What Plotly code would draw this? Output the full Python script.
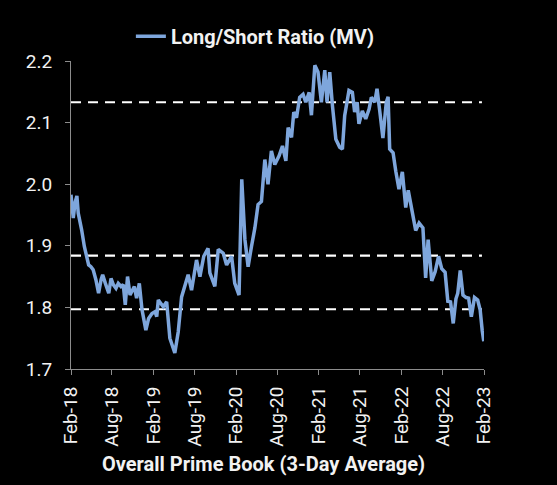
import plotly.graph_objects as go

dates = [
    "2018-02-01","2018-02-11","2018-02-19","2018-02-27","2018-03-05","2018-03-13","2018-03-20","2018-04-01",
    "2018-04-11","2018-04-20","2018-04-30","2018-05-10","2018-05-22","2018-06-03","2018-06-14","2018-06-21",
    "2018-07-03","2018-07-18","2018-07-28","2018-08-07","2018-08-19","2018-08-29","2018-09-10","2018-09-20",
    "2018-09-29","2018-10-09","2018-10-20","2018-11-01","2018-11-08","2018-11-18","2018-11-30","2018-12-12",
    "2018-12-22","2018-12-29","2019-01-10","2019-01-25","2019-02-08","2019-02-15","2019-02-22","2019-03-16",
    "2019-03-31","2019-04-14","2019-05-06","2019-05-21","2019-06-05","2019-06-24","2019-07-04","2019-07-19",
    "2019-08-10","2019-08-25","2019-09-11","2019-09-30","2019-10-08","2019-10-30","2019-11-14","2019-12-06",
    "2019-12-21","2020-01-12","2020-01-26","2020-02-14","2020-02-26","2020-03-11","2020-03-25","2020-04-09",
    "2020-04-24","2020-05-08","2020-05-23","2020-06-07","2020-06-21","2020-07-06","2020-07-21","2020-08-09",
    "2020-08-24","2020-09-08","2020-09-18","2020-10-03","2020-10-13","2020-10-25","2020-11-08","2020-11-23",
    "2020-12-05","2020-12-20","2020-12-30","2021-01-14","2021-01-28","2021-02-12","2021-02-27","2021-03-09",
    "2021-03-21","2021-04-02","2021-04-17","2021-05-04","2021-05-16","2021-05-26","2021-06-14","2021-06-29",
    "2021-07-09","2021-07-20","2021-07-28","2021-08-12","2021-08-27","2021-09-11","2021-09-21","2021-10-06",
    "2021-10-16","2021-10-28","2021-11-11","2021-11-26","2021-12-04","2021-12-11","2021-12-26","2022-01-07",
    "2022-01-21","2022-02-05","2022-02-20","2022-03-03","2022-03-21","2022-04-05","2022-04-20","2022-05-07",
    "2022-05-19","2022-05-30","2022-06-15","2022-06-30","2022-07-15","2022-07-29","2022-08-13","2022-08-25",
    "2022-09-06","2022-09-18","2022-09-30","2022-10-08","2022-10-19","2022-10-31","2022-11-14","2022-11-25",
    "2022-12-07","2022-12-21","2023-01-04","2023-01-15","2023-01-24","2023-01-31",
]
ratio = [
    1.983,1.945,1.970,1.981,1.953,1.934,1.926,1.899,
    1.883,1.869,1.866,1.861,1.845,1.823,1.845,1.853,
    1.839,1.823,1.847,1.837,1.831,1.839,1.834,1.837,
    1.804,1.850,1.820,1.828,1.834,1.815,1.839,1.796,
    1.774,1.763,1.782,1.790,1.793,1.785,1.812,1.801,
    1.809,1.750,1.726,1.760,1.817,1.839,1.853,1.828,
    1.877,1.850,1.883,1.896,1.856,1.834,1.894,1.888,
    1.869,1.883,1.839,1.820,2.008,1.910,1.866,1.899,
    1.929,1.967,1.972,2.040,2.000,2.054,2.032,2.046,
    2.062,2.038,2.092,2.076,2.117,2.108,2.141,2.146,
    2.133,2.149,2.112,2.193,2.182,2.133,2.185,2.133,
    2.182,2.127,2.073,2.060,2.057,2.111,2.152,2.149,
    2.117,2.133,2.098,2.119,2.106,2.122,2.141,2.133,
    2.155,2.119,2.075,2.133,2.142,2.057,2.051,2.021,
    1.992,2.020,1.962,1.990,1.950,1.925,1.937,1.929,
    1.848,1.910,1.843,1.858,1.883,1.863,1.857,1.810,
    1.809,1.774,1.814,1.823,1.860,1.820,1.816,1.815,
    1.785,1.816,1.812,1.796,1.763,1.745,
]
ref_levels = [2.133, 1.884, 1.797]

tick_dates = ["2018-02-01","2018-08-01","2019-02-01","2019-08-01","2020-02-01","2020-08-01",
              "2021-02-01","2021-08-01","2022-02-01","2022-08-01","2023-02-01"]
tick_labels = ["Feb-18","Aug-18","Feb-19","Aug-19","Feb-20","Aug-20",
               "Feb-21","Aug-21","Feb-22","Aug-22","Feb-23"]

x_title = "Overall Prime Book (3-Day Average)"
series_name = "Long/Short Ratio (MV)"

fig = go.Figure()
fig.add_trace(go.Scatter(
    x=dates, y=ratio, mode="lines", name=series_name,
    line=dict(color="#7EA6DC", width=3.5),
))

for lv in ref_levels:
    fig.add_shape(type="line", xref="paper", x0=0, x1=0.995, yref="y", y0=lv, y1=lv,
                  line=dict(color="white", width=2.2, dash="10px,7px"), layer="below")

fig.add_annotation(text=x_title, xref="paper", yref="paper", x=0.467, y=-0.31,
                   xanchor="center", yanchor="middle", showarrow=False,
                   font=dict(size=20, family="Roboto", weight="bold", color="#F2F2F2"))

fig.update_layout(
    width=557, height=485,
    paper_bgcolor="black", plot_bgcolor="black",
    margin=dict(l=71, r=73, t=61, b=116),
    font=dict(family="Roboto", color="#F2F2F2", size=19),
    showlegend=True,
    legend=dict(orientation="h", x=0.145, xanchor="left", y=1.08, yanchor="middle",
                font=dict(size=20, family="Roboto", weight="bold"), bgcolor="rgba(0,0,0,0)"),
    xaxis=dict(
        type="date", range=["2018-02-01", "2023-02-01"],
        tickvals=tick_dates, ticktext=tick_labels, tickangle=-90,
        showgrid=False, zeroline=False,
        showline=True, linecolor="#8C8C8C", linewidth=1,
        ticks="outside", ticklen=5, tickcolor="#8C8C8C",
        tickfont=dict(size=19), ticklabelstandoff=4,
    ),
    yaxis=dict(
        range=[1.7, 2.2], dtick=0.1, tickformat=".1f",
        showgrid=False, zeroline=False,
        showline=True, linecolor="#8C8C8C", linewidth=1,
        ticks="outside", ticklen=5, tickcolor="#8C8C8C",
        tickfont=dict(size=19), ticklabelstandoff=9,
    ),
)

fig.write_html("out.html", config={"displayModeBar": False},
               post_script="document.body.style.margin='0';")
